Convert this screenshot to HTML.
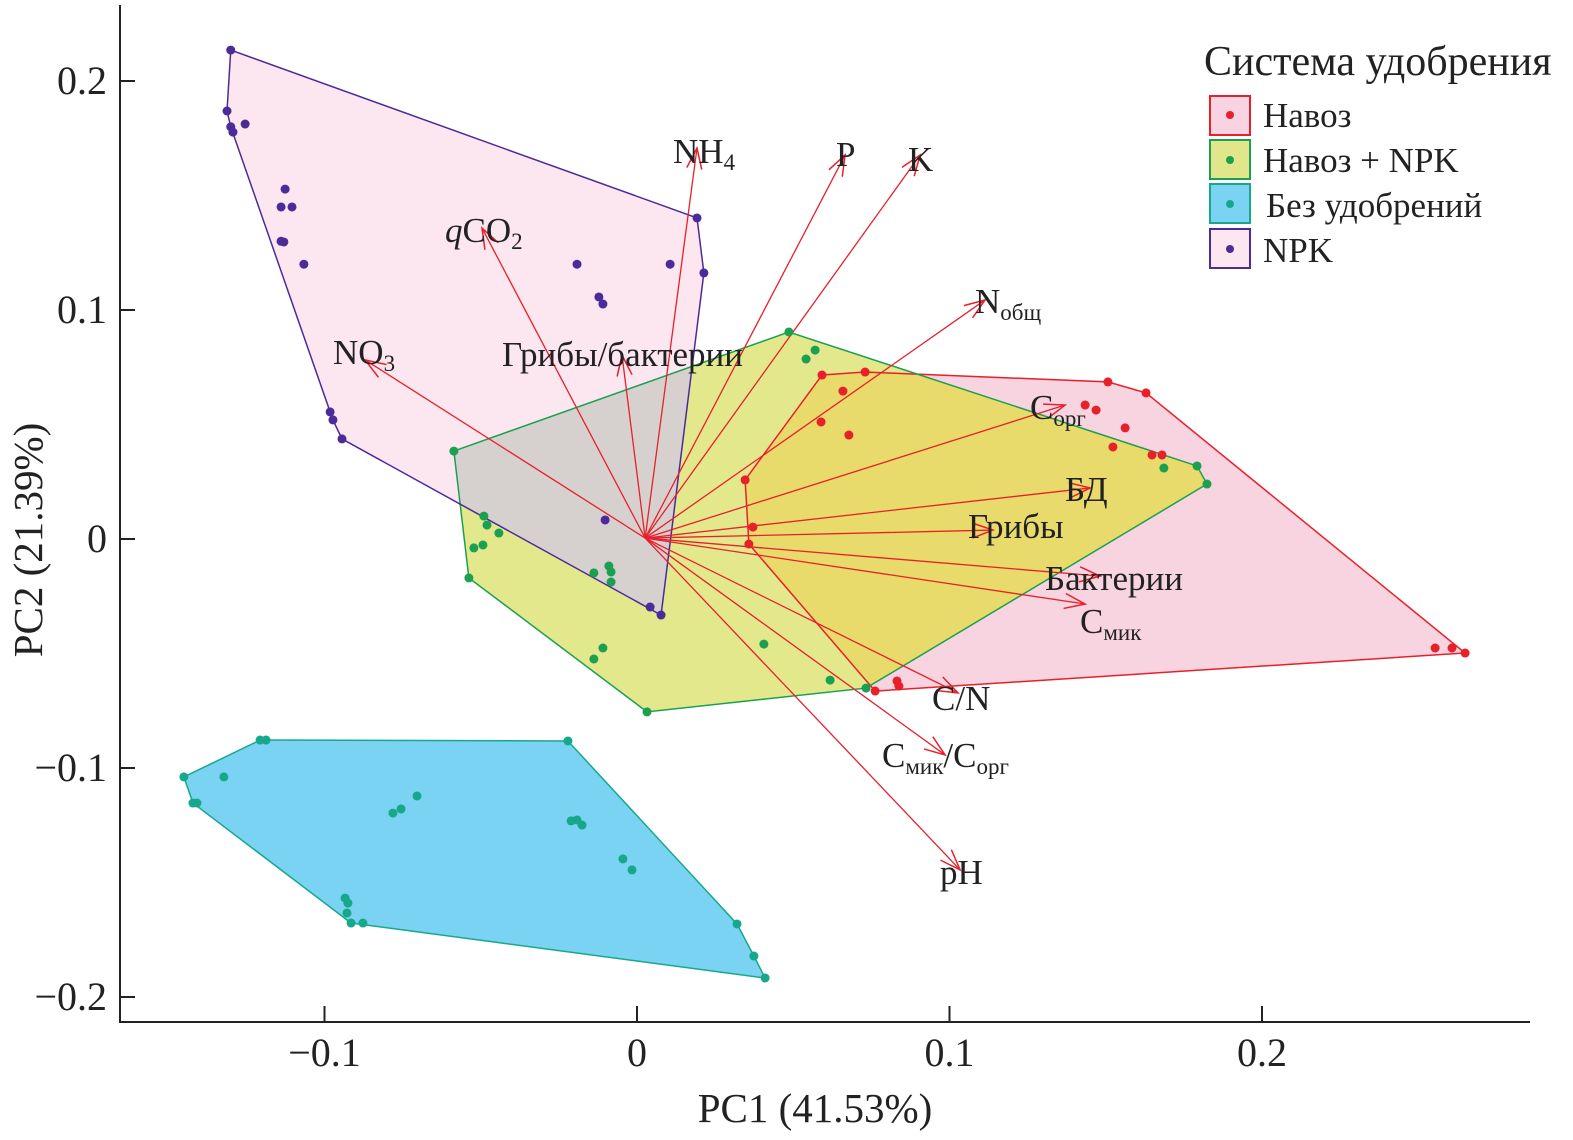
<!DOCTYPE html>
<html><head><meta charset="utf-8"><style>
body{margin:0;background:#fff}
svg{display:block;font-family:"Liberation Serif",serif}
</style></head><body>
<svg id="chart" width="1573" height="1140" viewBox="0 0 1573 1140" xmlns="http://www.w3.org/2000/svg">
<defs><clipPath id="greenClip"><polygon id="greenClipPoly" points=""/></clipPath></defs>
<g id="hulls"></g>
<g id="arrows"></g>
<g id="pts"></g>
<g id="axes"></g>
<g id="legend">
<text x="1204" y="75" font-size="42" fill="#222">Система удобрения</text>
<g><rect x="1210" y="96" width="40" height="39" fill="#f8d3e1" stroke="#e8202a" stroke-width="2"/><circle cx="1230" cy="115" r="4" fill="#e8202a"/><text x="1263" y="127" font-size="35" fill="#222">Навоз</text></g>
<g><rect x="1210" y="140" width="40" height="39" fill="#e1e68a" stroke="#1aa050" stroke-width="2"/><circle cx="1230" cy="160" r="4" fill="#1aa050"/><text x="1263" y="172" font-size="35" fill="#222">Навоз + NPK</text></g>
<g><rect x="1210" y="184" width="40" height="39" fill="#7ad3f3" stroke="#17a88c" stroke-width="2"/><circle cx="1230" cy="204" r="4" fill="#17a88c"/><text x="1266" y="217" font-size="35" fill="#222">Без удобрений</text></g>
<g><rect x="1210" y="229" width="40" height="39" fill="#fce6ef" stroke="#4b2a9a" stroke-width="2"/><circle cx="1230" cy="249" r="4" fill="#4b2a9a"/><text x="1263" y="262" font-size="35" fill="#222">NPK</text></g>
</g>
</svg>
<script>
const NS="http://www.w3.org/2000/svg";
const xTicks=[-0.1,0,0.1,0.2];
const xTickLabels=["\u22120.1","0","0.1","0.2"];
const yTicks=[-0.2,-0.1,0,0.1,0.2];
const yTickLabels=["\u22120.2","\u22120.1","0","0.1","0.2"];
const npkX=[-0.130,-0.1312,-0.130,-0.1293,-0.1254,-0.1126,-0.1139,-0.1104,-0.1139,-0.113,-0.1066,-0.0982,-0.0973,-0.0944,-0.0192,-0.0122,-0.0109,0.0106,0.0192,0.0214,-0.0102,0.0042,0.0077];
const npkY=[0.2135,0.1869,0.180,0.1777,0.1812,0.1528,0.145,0.145,0.130,0.1297,0.120,0.0555,0.052,0.0437,0.120,0.1057,0.1026,0.120,0.1402,0.1162,0.0083,-0.0297,-0.0332];
const navozX=[0.0346,0.0371,0.0358,0.0592,0.073,0.0659,0.0589,0.0678,0.1507,0.1629,0.1434,0.1469,0.1562,0.1523,0.1648,0.168,0.2554,0.2608,0.265,0.0762,0.0832,0.0838];
const navozY=[0.0258,0.0052,-0.0022,0.0716,0.0729,0.0646,0.0511,0.0454,0.0686,0.0638,0.0585,0.0563,0.0485,0.0402,0.0367,0.0367,-0.0476,-0.0476,-0.0498,-0.0664,-0.062,-0.0642];
const mixX=[0.0486,0.057,0.0541,-0.0586,-0.049,-0.048,-0.0442,-0.0493,-0.0522,-0.0538,-0.0138,-0.0083,-0.0083,-0.0109,-0.0138,0.0406,0.0618,0.0733,0.0032,0.1792,0.1824,0.1686,-0.009];
const mixY=[0.0904,0.0825,0.0786,0.0384,0.010,0.0061,0.0026,-0.0026,-0.0039,-0.017,-0.0148,-0.0144,-0.0188,-0.0476,-0.0524,-0.0459,-0.0616,-0.0651,-0.0755,0.0319,0.024,0.031,-0.0118];
const bezX=[-0.145,-0.1421,-0.1408,-0.1322,-0.1206,-0.1187,-0.0221,-0.0211,-0.0192,-0.0176,-0.0045,-0.0016,0.032,0.0374,0.041,-0.0781,-0.0755,-0.0704,-0.0934,-0.0925,-0.0928,-0.0915,-0.0877];
const bezY=[-0.1039,-0.1153,-0.1153,-0.1039,-0.0878,-0.0878,-0.0882,-0.1231,-0.1227,-0.1249,-0.1397,-0.1445,-0.1681,-0.1821,-0.1917,-0.1197,-0.1179,-0.1122,-0.1568,-0.159,-0.1633,-0.1677,-0.1677];
const arrowOrigin=[0.0026,0.0004];
const varNames=["NH4","P","K","qCO2","Nобщ","NO3","Грибы/бактерии","Cорг","БД","Грибы","Бактерии","Cмик","C/N","Cмик/Cорг","pH"];
const loadX=[0.0192,0.0666,0.0906,-0.0496,0.1114,-0.087,-0.0048,0.137,0.145,0.1139,0.1482,0.1434,0.1027,0.0986,0.1034];
const loadY=[0.1707,0.1677,0.1677,0.1358,0.1044,0.0782,0.0803,0.0585,0.0223,0.0039,-0.0162,-0.0284,-0.0672,-0.0943,-0.1445];

const sx=v=>637+v*3125, sy=v=>539-v*2290;
function el(t,a,p){const e=document.createElementNS(NS,t);for(const k in a)e.setAttribute(k,a[k]);(p||document.getElementById('chart')).appendChild(e);return e;}
function hull(xs,ys){let p=xs.map((x,i)=>[sx(x),sy(ys[i])]).sort((a,b)=>a[0]-b[0]||a[1]-b[1]);
 const cr=(o,a,b)=>(a[0]-o[0])*(b[1]-o[1])-(a[1]-o[1])*(b[0]-o[0]);
 const lo=[],up=[];for(const q of p){while(lo.length>1&&cr(lo[lo.length-2],lo[lo.length-1],q)<=0)lo.pop();lo.push(q);}
 for(const q of p.slice().reverse()){while(up.length>1&&cr(up[up.length-2],up[up.length-1],q)<=0)up.pop();up.push(q);}
 return lo.slice(0,-1).concat(up.slice(0,-1)).map(q=>q.join(',')).join(' ');}
const H=document.getElementById('hulls');
const hn=hull(npkX,npkY),hm=hull(mixX,mixY),hr=hull(navozX,navozY),hb=hull(bezX,bezY);
document.getElementById('greenClipPoly').setAttribute('points',hm);
let e;
e=el('polygon',{points:hb,fill:'#7ad3f3',stroke:'#17a88c','stroke-width':1.5},H);

e=el('polygon',{points:hn,fill:'#fce6ef',stroke:'none'},H);

e=el('polygon',{points:hr,fill:'#f8d3e0',stroke:'none'},H);

e=el('polygon',{points:hm,fill:'#e3e88c',stroke:'none'},H);

e=el('polygon',{points:hn,fill:'#d6d0cf','clip-path':'url(#greenClip)'},H);

e=el('polygon',{points:hr,fill:'#e9da6c','clip-path':'url(#greenClip)'},H);

e=el('polygon',{points:hr,fill:'none',stroke:'#e8202a','stroke-width':1.5},H);

e=el('polygon',{points:hm,fill:'none',stroke:'#1aa050','stroke-width':1.5},H);

e=el('polygon',{points:hn,fill:'none',stroke:'#4b2a9a','stroke-width':1.5},H);


const A=document.getElementById('arrows');
const ox=sx(arrowOrigin[0]),oy=sy(arrowOrigin[1]);
varNames.forEach((n,i)=>{const tx=sx(loadX[i]),ty=sy(loadY[i]);
 const g=el('g',{},A);
 
 
 el('line',{x1:ox,y1:oy,x2:tx,y2:ty,stroke:'#e8202a','stroke-width':1.3},g);
 const ang=Math.atan2(ty-oy,tx-ox),L=22,w=0.35;
 const d=`M${tx-L*Math.cos(ang-w)},${ty-L*Math.sin(ang-w)} L${tx},${ty} L${tx-L*Math.cos(ang+w)},${ty-L*Math.sin(ang+w)}`;
 el('path',{d:d,fill:'none',stroke:'#e8202a','stroke-width':1.5},g);});

const P=document.getElementById('pts');
function dots(xs,ys,c,nm){xs.forEach((x,i)=>{const d=el('circle',{cx:sx(x),cy:sy(ys[i]),r:4.5,fill:c},P);
 
 });}
dots(npkX,npkY,'#4b2a9a','npk');dots(navozX,navozY,'#e8202a','navoz');dots(mixX,mixY,'#1aa050','navoz-npk');dots(bezX,bezY,'#17a88c','bez');

const AX=document.getElementById('axes');
e=el('line',{x1:120,y1:5,x2:120,y2:1022,stroke:'#222','stroke-width':2},AX);

e=el('line',{x1:119,y1:1022,x2:1530,y2:1022,stroke:'#222','stroke-width':2},AX);

xTicks.forEach((v,i)=>{el('line',{x1:sx(v),y1:1022,x2:sx(v),y2:1006,stroke:'#222','stroke-width':2},AX);
 const t=el('text',{x:sx(v),y:1066,'font-size':40,'text-anchor':'middle',fill:'#222'},AX);t.textContent=xTickLabels[i];
 });
yTicks.forEach((v,i)=>{el('line',{x1:120,y1:sy(v),x2:135,y2:sy(v),stroke:'#222','stroke-width':2},AX);
 const t=el('text',{x:107,y:sy(v)+13,'font-size':40,'text-anchor':'end',fill:'#222'},AX);t.textContent=yTickLabels[i];
 });
</script>
<svg style="position:absolute;left:0;top:0" width="1573" height="1140" font-family="Liberation Serif, serif" fill="#222">
<text x="815" y="1122" font-size="41" text-anchor="middle">PC1 (41.53%)</text>
<text transform="translate(42,540) rotate(-90)" font-size="41" text-anchor="middle">PC2 (21.39%)</text>
<g font-size="35">
<text x="673" y="163">NH<tspan font-size="23" dy="7">4</tspan></text>
<text x="836" y="166">P</text>
<text x="908" y="171">K</text>
<text x="445" y="242"><tspan font-style="italic">q</tspan>CO<tspan font-size="23" dy="7">2</tspan></text>
<text x="975" y="313">N<tspan font-size="23" dy="7">общ</tspan></text>
<text x="333" y="364">NO<tspan font-size="23" dy="7">3</tspan></text>
<text x="502" y="366">Грибы/бактерии</text>
<text x="1030" y="419">C<tspan font-size="23" dy="7">орг</tspan></text>
<text x="1065" y="501">БД</text>
<text x="968" y="538">Грибы</text>
<text x="1045" y="590">Бактерии</text>
<text x="1080" y="633">C<tspan font-size="23" dy="7">мик</tspan></text>
<text x="932" y="710">C/N</text>
<text x="882" y="767">C<tspan font-size="23" dy="7">мик</tspan><tspan dy="-7">/C</tspan><tspan font-size="23" dy="7">орг</tspan></text>
<text x="940" y="884">pH</text>
</g>
</svg>
</body></html>
